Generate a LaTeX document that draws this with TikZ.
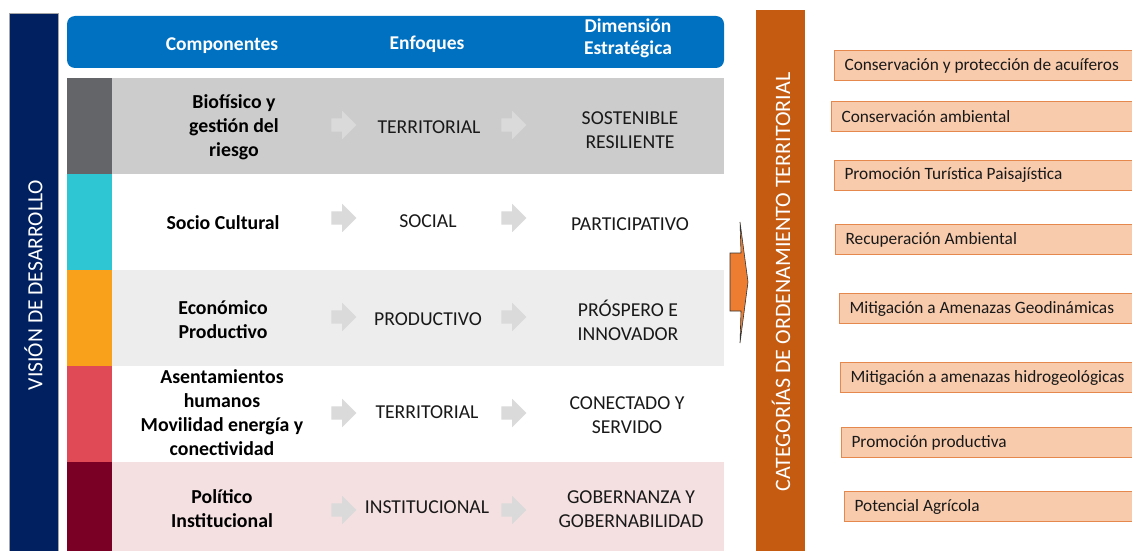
\documentclass[tikz,border=0pt]{standalone}
\usepackage{fontspec}
\setmainfont{Carlito}
\usetikzlibrary{shapes.arrows}
\definecolor{navy}{HTML}{002060}
\definecolor{hdrblue}{HTML}{0070C0}
\definecolor{stripA}{HTML}{636569}
\definecolor{stripB}{HTML}{2DC6D2}
\definecolor{stripC}{HTML}{F9A11B}
\definecolor{stripD}{HTML}{E04A57}
\definecolor{stripE}{HTML}{7A0026}
\definecolor{bgA}{HTML}{CCCCCC}
\definecolor{bgC}{HTML}{EDEDED}
\definecolor{bgE}{HTML}{F5E0E1}
\definecolor{catbar}{HTML}{C55A11}
\definecolor{catfill}{HTML}{F8CBAD}
\definecolor{catline}{HTML}{E5884E}
\definecolor{arrowfill}{HTML}{ED7D31}
\definecolor{chev}{HTML}{DADADA}
\tikzset{
  x=1pt,y=-1pt,
  hdr/.style={text=white,font=\fontsize{19.5}{22}\selectfont\bfseries,align=center},
  comp/.style={font=\fontsize{19.8}{24}\selectfont\bfseries,align=center,text=black},
  enf/.style={font=\fontsize{19.7}{24}\selectfont,align=center,text=black!90},
  chevron/.style={single arrow,fill=chev,draw=none,minimum height=25,inner xsep=0pt,inner ysep=6.5pt,single arrow head extend=7.5pt,single arrow head indent=0pt,text width=0pt,text height=0pt,text depth=0pt},
  catbox/.style={draw=catline,line width=0.8pt,fill=catfill},
  cattext/.style={font=\fontsize{17.3}{20}\selectfont,anchor=west,text=black!90},
}
\begin{document}
\begin{tikzpicture}
\useasboundingbox (0,0) rectangle (1132,551);
\fill[white] (0,0) rectangle (1132,551);
% left vision bar
\draw[fill=navy,draw=gray!70,line width=0.6pt] (9,13) rectangle (58,552);
\node[rotate=90,text=white,font=\fontsize{21.6}{24}\selectfont] (vision) at (33.5,285) {VISIÓN DE DESARROLLO};
% header
\fill[hdrblue,rounded corners=8pt] (67,16) rectangle (724,68);
\node[hdr] (h1) at (222,46) {Componentes};
\node[hdr] (h2) at (427,44) {Enfoques};
\node[hdr] (h3) at (628,38) {Dimensión\\Estratégica};
% rows backgrounds
\fill[bgA] (112,78) rectangle (724,174);
\fill[white] (112,174) rectangle (724,270);
\fill[bgC] (112,270) rectangle (724,366);
\fill[white] (112,366) rectangle (724,462);
\fill[bgE] (112,462) rectangle (724,552);
\fill[stripA] (67,78) rectangle (112,174);
\fill[stripB] (67,174) rectangle (112,270);
\fill[stripC] (67,270) rectangle (112,366);
\fill[stripD] (67,366) rectangle (112,462);
\fill[stripE] (67,462) rectangle (112,552);
% components
\node[comp] (c1) at (234,127) {Biofísico y\\gestión del\\riesgo};
\node[comp] (c2) at (223,223) {Socio Cultural};
\node[comp] (c3) at (223,320) {Económico\\Productivo};
\node[comp] (c4) at (222,413) {Asentamientos\\humanos\\Movilidad energía y\\conectividad};
\node[comp] (c5) at (222,509) {Político\\Institucional};
% enfoques
\node[enf] (e1) at (429,127) {TERRITORIAL};
\node[enf] (e2) at (428,221) {SOCIAL};
\node[enf] (e3) at (428,319) {PRODUCTIVO};
\node[enf] (e4) at (427,412) {TERRITORIAL};
\node[enf] (e5) at (427,507) {INSTITUCIONAL};
% dimensions
\node[enf] (d1) at (630,130) {SOSTENIBLE\\RESILIENTE};
\node[enf] (d2) at (630,224) {PARTICIPATIVO};
\node[enf] (d3) at (628,320) {PRÓSPERO E\\INNOVADOR};
\node[enf] (d4) at (627,415) {CONECTADO Y\\SERVIDO};
\node[enf] (d5) at (631,509) {GOBERNANZA Y\\GOBERNABILIDAD};
% chevrons
\foreach \i/\y in {1/125,2/218,3/317,4/413,5/510}{
  \node[chevron] (ca\i) at (340.5,\y) {};
  \node[chevron] (cb\i) at (510.5,\y) {};
}
% orange arrow
\draw[fill=arrowfill,draw=black!80,line width=0.6pt,line join=miter]
  (730,253) -- (741,253) -- (740,222) -- (748,282) -- (740,343) -- (741,311) -- (730,311) -- cycle;
% categories bar
\fill[catbar] (756,10) rectangle (805,552);
\node[rotate=90,text=white,font=\fontsize{22}{24}\selectfont] (cat) at (781,282) {CATEGORÍAS DE ORDENAMIENTO TERRITORIAL};
% category boxes
\foreach \i/\xa/\ya/\t in {
  1/834/50/{Conservación y protección de acuíferos},
  2/831/101/{Conservación ambiental},
  3/834/160/{Promoción Turística Paisajística},
  4/835/224/{Recuperación Ambiental},
  5/839/293/{Mitigación a Amenazas Geodinámicas},
  6/840/362/{Mitigación a amenazas hidrogeológicas},
  7/841/427/{Promoción productiva},
  8/844/491/{Potencial Agrícola}}{
  \draw[catbox] (\xa,\ya) rectangle (1140,\ya+30);
  \node[cattext] (k\i) at (\xa+7,\ya+15.5) {\t};
}
\end{tikzpicture}
\end{document}
